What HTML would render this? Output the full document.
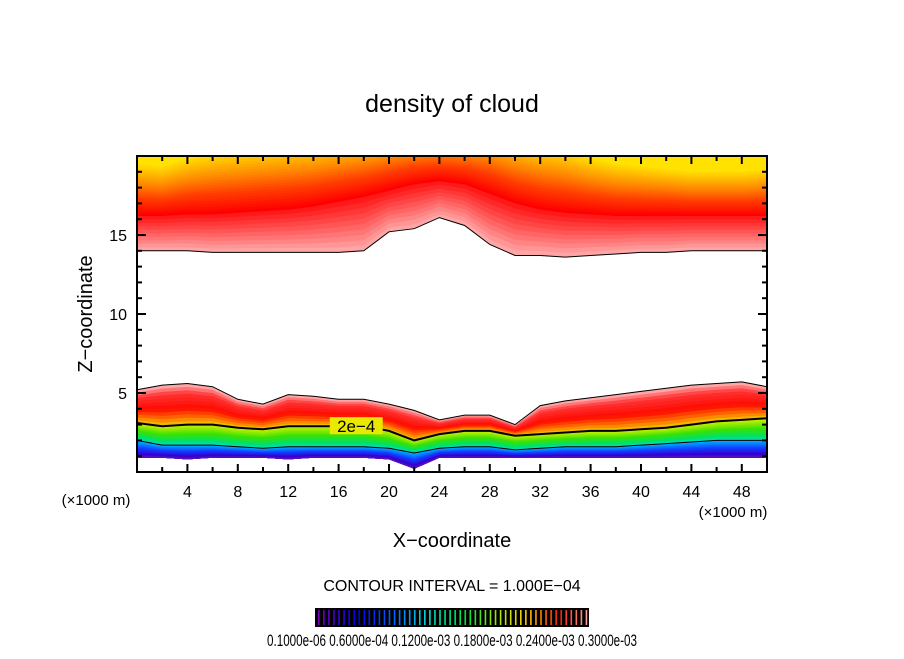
<!DOCTYPE html>
<html><head><meta charset="utf-8"><style>
body{margin:0;background:#fff;}
svg text{font-family:"Liberation Sans","DejaVu Sans",sans-serif;}
</style></head><body>
<svg id="c" width="904" height="654" viewBox="0 0 904 654" xmlns="http://www.w3.org/2000/svg">
<defs><clipPath id="pc"><rect x="137" y="156" width="630" height="316"/></clipPath></defs>
<text x="452" y="112" font-size="25" text-anchor="middle">density of cloud</text>
<g id="plot" clip-path="url(#pc)"></g>
<g id="axes"></g>
<text x="452" y="547" font-size="20" text-anchor="middle">X−coordinate</text>
<text transform="translate(92,314) rotate(-90)" font-size="20" text-anchor="middle">Z−coordinate</text>
<text x="96" y="505" font-size="15" text-anchor="middle">(×1000 m)</text>
<text x="733" y="517" font-size="15" text-anchor="middle">(×1000 m)</text>
<text x="452" y="591" font-size="16" text-anchor="middle">CONTOUR INTERVAL = 1.000E−04</text>
<g id="cbar"></g>
<text x="452" y="646" font-size="17" text-anchor="middle" textLength="370" lengthAdjust="spacingAndGlyphs">0.1000e-06 0.6000e-04 0.1200e-03 0.1800e-03 0.2400e-03 0.3000e-03</text>
</svg>
<script>
const xs=[0,2,4,6,8,10,12,14,16,18,20,22,24,26,28,30,32,34,36,38,40,42,44,46,48,50];
const upperBound=[14,14,14,13.9,13.9,13.9,13.9,13.9,13.9,14,15.2,15.4,16.1,15.6,14.4,13.7,13.7,13.6,13.7,13.8,13.9,13.9,14,14,14,14];
const upperCore=[16.2,16.2,16.3,16.3,16.4,16.5,16.6,16.8,17.1,17.4,17.8,18.2,18.4,18.2,17.6,17.0,16.6,16.4,16.3,16.2,16.2,16.2,16.2,16.2,16.2,16.2];
const upperReach=[1,0.95,1.1,1.2,1.25,1.3,1.35,1.4,1.5,1.6,1.8,2.0,2.1,2.0,1.8,1.5,1.35,1.25,1.1,1.0,0.95,0.9,0.85,0.85,0.85,0.9];
const lowerTop=[5.2,5.5,5.6,5.4,4.6,4.3,4.9,4.8,4.6,4.6,4.3,3.9,3.3,3.6,3.6,3.0,4.2,4.5,4.7,4.9,5.1,5.3,5.5,5.6,5.7,5.4];
const line2e4=[3.1,2.9,3.0,3.0,2.8,2.7,2.9,2.9,2.9,2.9,2.6,2.0,2.4,2.6,2.6,2.3,2.4,2.5,2.6,2.6,2.7,2.8,3.0,3.2,3.3,3.4];
const lineLow=[2.0,1.7,1.7,1.7,1.6,1.5,1.6,1.6,1.6,1.6,1.5,1.2,1.5,1.6,1.6,1.4,1.5,1.6,1.6,1.6,1.7,1.8,1.9,2.0,2.0,2.0];
const lowerBot=[0.9,0.9,0.8,0.9,0.9,0.9,0.8,0.9,0.9,0.9,0.8,0.2,0.9,0.9,0.9,0.9,0.9,0.9,0.9,0.9,0.9,0.9,0.9,0.9,0.9,0.9];
const xTicks=[4,8,12,16,20,24,28,32,36,40,44,48];
const yTicks=[5,10,15];
const X0=137,X1=767,Y0=472,Y1=156;
const sx=v=>X0+(v-0)/50*(X1-X0);
const sy=v=>Y0-(v-0)/20*(Y0-Y1);
const NS="http://www.w3.org/2000/svg";
const plot=document.getElementById('plot');
function mk(t,a,p){const e=document.createElementNS(NS,t);for(const k in a)e.setAttribute(k,a[k]);(p||plot).appendChild(e);return e;}
function line(arr){return xs.map((x,i)=>(i?'L':'M')+sx(x).toFixed(1)+' '+sy(arr[i]).toFixed(1)).join(' ');}
function band(lo,hi){let d=xs.map((x,i)=>(i?'L':'M')+sx(x).toFixed(1)+' '+sy(hi[i]).toFixed(1)).join(' ');
 for(let i=xs.length-1;i>=0;i--)d+=' L'+sx(xs[i]).toFixed(1)+' '+sy(lo[i]).toFixed(1);return d+'Z';}
function hex(c){return '#'+c.map(v=>Math.round(v).toString(16).padStart(2,'0')).join('');}
function grad(stops,t){for(let i=1;i<stops.length;i++){if(t<=stops[i][0]){const a=stops[i-1],b=stops[i],f=(t-a[0])/(b[0]-a[0]||1);
 return hex([0,1,2].map(j=>a[1][j]+(b[1][j]-a[1][j])*f));}}return hex(stops[stops.length-1][1]);}
function layer(lo,hi,c,name){const p=mk('path',{d:band(lo,hi),fill:c});
 
 }
const top21=xs.map(()=>21);
const N1=10;
for(let k=0;k<N1;k++){const f=k/N1;
 layer(upperBound.map((b,i)=>b+(upperCore[i]-b)*f),top21,grad([[0,[255,165,165]],[0.5,[255,85,85]],[1,[255,10,10]]],f),'upper-cloud-layer');}
const N2=24;
for(let k=0;k<N2;k++){const f=k/N2;
 layer(upperCore.map((c,i)=>c+(20-c)*f*upperReach[i]*0.9),top21,grad([[0,[255,0,0]],[0.3,[255,60,0]],[0.55,[255,130,0]],[0.8,[255,190,0]],[1,[255,235,0]]],f),'upper-cloud-layer');}
const segs=[[lowerTop,line2e4,[[0,[255,165,165]],[0.2,[255,50,50]],[0.55,[255,10,0]],[0.78,[255,110,0]],[1,[235,225,0]]]],
 [line2e4,lineLow,[[0,[200,240,0]],[0.4,[60,225,0]],[0.75,[0,225,100]],[1,[0,220,220]]]],
 [lineLow,lowerBot,[[0,[0,170,255]],[0.4,[20,60,255]],[0.75,[50,0,210]],[1,[120,20,170]]]]];
segs.forEach(s=>{const N=12;for(let k=0;k<N;k++){const f=k/N;
 layer(lowerBot,s[0].map((a,i)=>a+(s[1][i]-a)*f),grad(s[2],f),'lower-cloud-layer');}});
[[upperBound,1],[lowerTop,1],[line2e4,2],[lineLow,1]].forEach(a=>{const p=mk('path',{d:line(a[0]),fill:'none',stroke:'#000','stroke-width':a[1]});
 
 });
const lb=mk('rect',{x:sx(15.3),y:sy(2.9)-9,width:sx(19.5)-sx(15.3),height:17,fill:'#e8e800'});


const lt=mk('text',{x:sx(17.4),y:sy(2.9)+6,'font-size':17,'text-anchor':'middle'});lt.textContent='2e−4';


const ax=document.getElementById('axes');
const fr=mk('rect',{x:X0,y:Y1,width:X1-X0,height:Y0-Y1,fill:'none',stroke:'#000','stroke-width':2},ax);


for(let v=2;v<50;v+=2){const L=v%4===0?8:5;
 mk('line',{x1:sx(v),x2:sx(v),y1:Y0,y2:Y0-L,stroke:'#000','stroke-width':2},ax);
 mk('line',{x1:sx(v),x2:sx(v),y1:Y1,y2:Y1+L,stroke:'#000','stroke-width':2},ax);}
for(let v=1;v<20;v++){const L=v%5===0?9:5;
 mk('line',{x1:X0,x2:X0+L,y1:sy(v),y2:sy(v),stroke:'#000','stroke-width':2},ax);
 mk('line',{x1:X1,x2:X1-L,y1:sy(v),y2:sy(v),stroke:'#000','stroke-width':2},ax);}
xTicks.forEach(v=>{const t=mk('text',{x:sx(v),y:497,'font-size':16,'text-anchor':'middle'},ax);t.textContent=v;
 
 });
yTicks.forEach(v=>{const t=mk('text',{x:127,y:sy(v)+6,'font-size':16,'text-anchor':'end'},ax);t.textContent=v;
 
 });
const cb=document.getElementById('cbar');
mk('rect',{x:315,y:608,width:274,height:19,fill:'#000'},cb);
const cbStops=[[0,[128,0,192]],[0.15,[0,0,230]],[0.3,[0,120,255]],[0.4,[0,220,220]],[0.55,[0,225,60]],[0.68,[180,230,0]],[0.78,[255,200,0]],[0.9,[255,30,0]],[1,[255,160,160]]];
for(let i=0;i<54;i++){const x=318+i*5.05;
 mk('rect',{x:x,y:610,width:1.6,height:15,fill:grad(cbStops,i/53)},cb);}
</script>
</body></html>
